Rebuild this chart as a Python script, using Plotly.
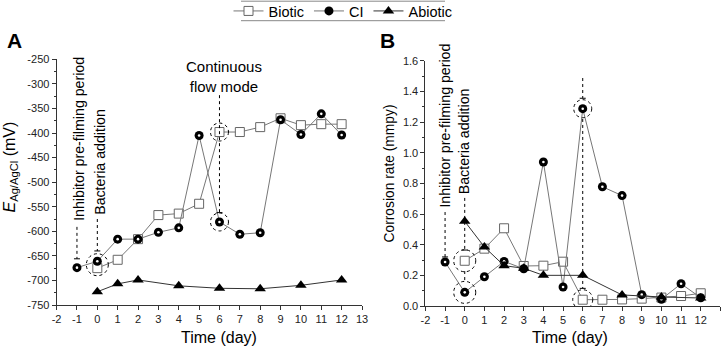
import plotly.graph_objects as go

# ---------------- data ----------------
days_bio = [0, 1, 2, 3, 4, 5, 6, 7, 8, 9, 10, 11, 12]
days_ci = [-1, 0, 1, 2, 3, 4, 5, 6, 7, 8, 9, 10, 11, 12]
days_abi = [0, 1, 2, 4, 6, 8, 10, 12]
days_abi_b = [0, 1, 2, 3, 4, 6, 8, 10, 12]

E_biotic = [-675, -658, -616, -567, -564, -544, -398, -398, -388, -370, -384, -382, -382]
E_ci = [-674, -661, -616, -616, -602, -593, -405, -581, -606, -603, -373, -403, -361, -404]
E_abiotic = [-723, -707, -699, -711, -716, -717, -710, -699]

CR_biotic = [0.295, 0.374, 0.507, 0.261, 0.263, 0.289, 0.041, 0.041, 0.043, 0.048, 0.055, 0.065, 0.083]
CR_ci = [0.287, 0.089, 0.191, 0.291, 0.243, 0.939, 0.124, 1.287, 0.778, 0.72, 0.074, 0.044, 0.145, 0.054]
CR_abiotic = [0.552, 0.385, 0.263, 0.246, 0.2, 0.2, 0.072, 0.059, 0.052]

x_ticks = list(range(-2, 14))
x_ticktext = [str(v) for v in x_ticks]
E_ticks = list(range(-750, -249, 50))
E_ticktext = [str(v) for v in E_ticks]
CR_ticks = [0.0, 0.2, 0.4, 0.6, 0.8, 1.0, 1.2, 1.4, 1.6]
CR_ticktext = [f"{v:.1f}" for v in CR_ticks]

FONT = "Liberation Sans, Arial, sans-serif"
W, H = 726, 347

fig = go.Figure()

sq_fill = dict(symbol="square", size=9, color="white", line=dict(width=1, color="#666"))
ball = dict(symbol="circle", size=9, color="black", line=dict(width=0))
ball_hl = dict(symbol="circle", size=2.6, color="white", line=dict(width=0))
tri = dict(symbol="triangle-up", size=10, color="black", line=dict(width=0))

def add_set(xa, ya, xb, yb, xc, yc, xref, yref, show):
    fig.add_trace(go.Scatter(x=xa, y=ya, mode="lines+markers", name="Biotic", marker=sq_fill,
                             line=dict(color="#777", width=1), xaxis=xref, yaxis=yref,
                             showlegend=show, legendrank=1))
    fig.add_trace(go.Scatter(x=xb, y=yb, mode="lines+markers", name="CI", marker=ball,
                             line=dict(color="#777", width=1), xaxis=xref, yaxis=yref,
                             showlegend=show, legendrank=2))
    fig.add_trace(go.Scatter(x=xb, y=yb, mode="markers", name="CI", marker=ball_hl,
                             xaxis=xref, yaxis=yref, showlegend=False, hoverinfo="skip"))
    fig.add_trace(go.Scatter(x=xc, y=yc, mode="lines+markers", name="Abiotic", marker=tri,
                             line=dict(color="#333", width=1), xaxis=xref, yaxis=yref,
                             showlegend=show, legendrank=3))

add_set(days_bio, E_biotic, days_ci, E_ci, days_abi, E_abiotic, "x", "y", True)
add_set(days_bio, CR_biotic, days_ci, CR_ci, days_abi_b, CR_abiotic, "x2", "y2", False)

axis_common = dict(showline=True, linecolor="#333", linewidth=1, ticks="outside", ticklen=4,
                   tickcolor="#333", showgrid=False, zeroline=False, automargin=False,
                   tickfont=dict(family=FONT, size=11, color="#222"))

fig.update_layout(
    xaxis=dict(domain=[56.6 / W, 362 / W], range=[-2, 13], tickvals=x_ticks, ticktext=x_ticktext,
               anchor="y", **axis_common),
    yaxis=dict(domain=[1 - 305 / H, 1 - 59.3 / H], range=[-750, -250], tickvals=E_ticks, ticktext=E_ticktext,
               anchor="x", minor=dict(dtick=25, ticks="outside", ticklen=2, tickcolor="#333"), **axis_common),
    xaxis2=dict(domain=[425.4 / W, 720.4 / W], range=[-2, 13], tickvals=x_ticks, ticktext=x_ticktext,
                anchor="y2", **axis_common),
    yaxis2=dict(domain=[1 - 306 / H, 1 - 60.7 / H], range=[0, 1.6], tickvals=CR_ticks, ticktext=CR_ticktext,
                anchor="x2", minor=dict(dtick=0.1, ticks="outside", ticklen=2, tickcolor="#333"), **axis_common),
)

shapes = []
annos = []

def dotted(xr, yr, x, y0, y1, tick=True):
    shapes.append(dict(type="line", xref=xr, yref=yr, x0=x, x1=x, y0=y0, y1=y1,
                       line=dict(color="black", width=1, dash="dot")))
    if tick:
        shapes.append(dict(type="line", xref=xr, yref=yr, xsizemode="pixel", xanchor=x,
                           x0=-3, x1=3, y0=y1, y1=y1, line=dict(color="black", width=1)))

def ring(xr, yr, x, y, r):
    shapes.append(dict(type="circle", xref=xr, yref=yr, xsizemode="pixel", ysizemode="pixel",
                       xanchor=x, yanchor=y, x0=-r, x1=r, y0=-r, y1=r,
                       line=dict(color="black", width=1, dash="dot")))

def rot_text(xr, yr, x, y, text, xshift=0):
    annos.append(dict(xref=xr, yref=yr, x=x, y=y, text=text, textangle=-90, showarrow=False,
                      xshift=xshift, font=dict(family=FONT, size=14.2, color="black")))

def ptext(px, py, text, size, angle=0):
    annos.append(dict(xref="paper", yref="paper", x=px / W, y=1 - py / H, xanchor="center", yanchor="middle",
                      text=text, textangle=angle, showarrow=False,
                      font=dict(family=FONT, size=size, color="black")))

# Panel A annotations
rot_text("x", "y", -1, -412, "Inhibitor pre-filming period", 2)
rot_text("x", "y", 0, -458, "Bacteria addition", 2)
dotted("x", "y", -1, -591, -656)
dotted("x", "y", 0, -575, -640)
ring("x", "y", 0, -668, 11)
dotted("x", "y", 6, -323, -562)
ring("x", "y", 6, -398, 9)
ring("x", "y", 6, -581, 9)
annos.append(dict(xref="x", yref="y", x=6, y=-284, xshift=5, text="Continuous<br>flow mode", showarrow=False,
                  font=dict(family=FONT, size=15, color="black")))

# Panel B annotations
rot_text("x2", "y2", -1, 1.177, "Inhibitor pre-filming period", -1)
rot_text("x2", "y2", 0, 1.073, "Bacteria addition", -1)
dotted("x2", "y2", -1, 0.613, 0.32)
dotted("x2", "y2", 0, 0.705, 0.365)
dotted("x2", "y2", 0, 0.228, 0.155, tick=False)
ring("x2", "y2", 0, 0.295, 11)
ring("x2", "y2", 0, 0.089, 11)
dotted("x2", "y2", 6, 1.487, 1.355)
dotted("x2", "y2", 6, 1.22, 0.115)
ring("x2", "y2", 6, 1.287, 9)
ring("x2", "y2", 6, 0.041, 10)
annos.append(dict(xref="x2", yref="y2", x=6, y=1.614, xshift=-3, text="Continuous<br>flow mode", showarrow=False,
                  font=dict(family=FONT, size=15, color="black")))

# Panel letters
ptext(14.5, 40, "<b>A</b>", 21)
ptext(388, 40, "<b>B</b>", 21)

# Axis titles
ptext(218.5, 337, "Time (day)", 16)
ptext(570, 337, "Time (day)", 16)
ptext(10, 167.5, "<i>E</i><sub>Ag/AgCl</sub> (mV)", 16, angle=-90)
ptext(389, 173.5, "Corrosion rate (mmpy)", 13.8, angle=-90)

# Legend frame lines
for yy in (1.2, 20.7):
    shapes.append(dict(type="line", xref="paper", yref="paper", x0=241 / W, x1=445 / W,
                       y0=1 - yy / H, y1=1 - yy / H, line=dict(color="#888", width=1)))

fig.update_layout(
    shapes=shapes, annotations=annos,
    width=W, height=H, margin=dict(l=0, r=0, t=0, b=0, pad=0, autoexpand=False),
    plot_bgcolor="white", paper_bgcolor="white",
    font=dict(family=FONT, color="black"),
    legend=dict(orientation="h", x=343 / W, xanchor="center", y=1 - 11 / H, yanchor="middle",
                bgcolor="rgba(0,0,0,0)", font=dict(family=FONT, size=14.5, color="black"),
                itemwidth=30, tracegroupgap=0, traceorder="normal"),
)

fig.write_html("out.html", config={"displayModeBar": False},
               post_script="document.body.style.margin='0';document.body.style.overflow='hidden';")
